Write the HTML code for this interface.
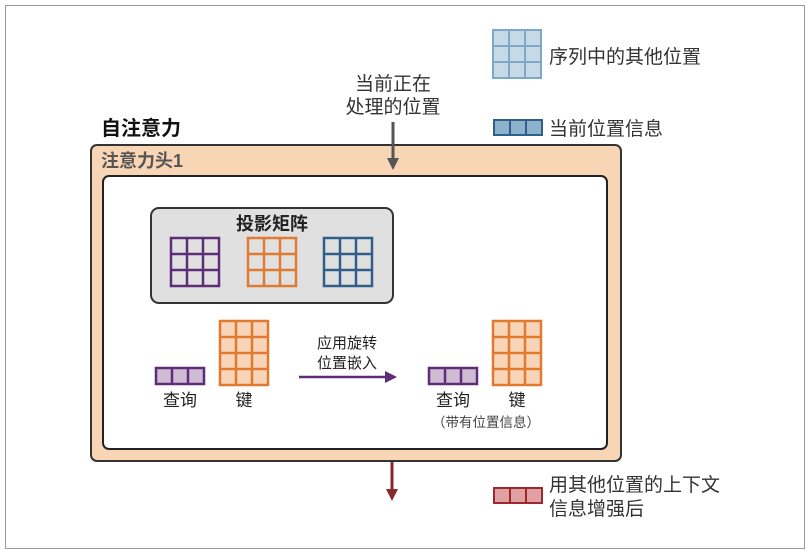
<!DOCTYPE html>
<html><head><meta charset="utf-8"><style>
body{margin:0;background:#fff}
svg text{font-family:"Liberation Sans","Noto Sans CJK SC",sans-serif}
</style></head><body>
<svg width="810" height="554" viewBox="0 0 810 554" xmlns="http://www.w3.org/2000/svg">
<defs>
<marker id="ag" markerWidth="12" markerHeight="12" refX="6" refY="6" orient="auto" markerUnits="userSpaceOnUse"><path d="M0,0 L12,6 L0,12 z" fill="#555"/></marker>
<marker id="ap" markerWidth="12" markerHeight="12" refX="6" refY="6" orient="auto" markerUnits="userSpaceOnUse"><path d="M0,0 L12,6 L0,12 z" fill="#5e2d7a"/></marker>
<marker id="ar" markerWidth="12" markerHeight="12" refX="6" refY="6" orient="auto" markerUnits="userSpaceOnUse"><path d="M0,0 L12,6 L0,12 z" fill="#8b2a2a"/></marker>
</defs>
<rect x="5.5" y="5.5" width="799" height="543" fill="#fff" stroke="#999"/>

<!-- legend -->
<g fill="#c5d9e6" stroke="#7fa7c7" stroke-width="2">
<rect x="493" y="30" width="16" height="16"/><rect x="509" y="30" width="16" height="16"/><rect x="525" y="30" width="16" height="16"/>
<rect x="493" y="46" width="16" height="16"/><rect x="509" y="46" width="16" height="16"/><rect x="525" y="46" width="16" height="16"/>
<rect x="493" y="62" width="16" height="16"/><rect x="509" y="62" width="16" height="16"/><rect x="525" y="62" width="16" height="16"/>
</g>
<text x="549" y="63" font-size="19" fill="#333">序列中的其他位置</text>
<g fill="#8db3cc" stroke="#2f5f8a" stroke-width="2">
<rect x="494" y="120" width="16" height="15"/><rect x="510" y="120" width="16" height="15"/><rect x="526" y="120" width="16" height="15"/>
</g>
<text x="549" y="135" font-size="19" fill="#333">当前位置信息</text>

<text x="393" y="90" font-size="19" fill="#333" text-anchor="middle">当前正在</text>
<text x="393" y="113" font-size="19" fill="#333" text-anchor="middle">处理的位置</text>

<text x="101" y="135" font-size="20" font-weight="bold" fill="#111">自注意力</text>
<rect x="91" y="145" width="530" height="316" rx="6" fill="#f7d5b5" stroke="#333" stroke-width="2"/>
<text x="101" y="167" font-size="18" font-weight="bold" fill="#555">注意力头1</text>
<rect x="103" y="176" width="504" height="273" rx="6" fill="#fff" stroke="#222" stroke-width="2"/>
<line x1="393" y1="122" x2="393" y2="164" stroke="#555" stroke-width="3" marker-end="url(#ag)"/>

<rect x="151" y="208" width="242" height="95" rx="8" fill="#e0e0e0" stroke="#333" stroke-width="2"/>
<text x="272" y="230" font-size="18" font-weight="bold" fill="#222" text-anchor="middle">投影矩阵</text>

<g fill="none" stroke-width="2.5">
<g stroke="#5e2d7a"><rect x="171" y="238" width="48" height="48"/><path d="M187,238V286M203,238V286M171,254H219M171,270H219"/></g>
<g stroke="#e07a30"><rect x="248" y="238" width="48" height="48"/><path d="M264,238V286M280,238V286M248,254H296M248,270H296"/></g>
<g stroke="#2f5f8a"><rect x="324" y="238" width="48" height="48"/><path d="M340,238V286M356,238V286M324,254H372M324,270H372"/></g>
</g>

<g stroke="#5e2d7a" stroke-width="2.5" fill="#cdbcd3">
<rect x="156" y="368" width="48" height="16"/><path d="M172,368V384M188,368V384" fill="none"/>
<rect x="429" y="368" width="48" height="16"/><path d="M445,368V384M461,368V384" fill="none"/>
</g>
<g stroke="#e07a30" stroke-width="2.5" fill="#f8d5b8">
<rect x="220" y="321" width="48" height="64"/><path d="M236,321V385M252,321V385M220,337H268M220,353H268M220,369H268" fill="none"/>
<rect x="493" y="321" width="48" height="64"/><path d="M509,321V385M525,321V385M493,337H541M493,353H541M493,369H541" fill="none"/>
</g>
<text x="180" y="406" font-size="17" fill="#222" text-anchor="middle">查询</text>
<text x="244" y="406" font-size="17" fill="#222" text-anchor="middle">键</text>
<text x="453" y="406" font-size="17" fill="#222" text-anchor="middle">查询</text>
<text x="517" y="406" font-size="17" fill="#222" text-anchor="middle">键</text>
<text x="486" y="427" font-size="13.5" fill="#444" text-anchor="middle">（带有位置信息）</text>

<text x="347" y="348" font-size="15" fill="#222" text-anchor="middle">应用旋转</text>
<text x="347" y="368" font-size="15" fill="#222" text-anchor="middle">位置嵌入</text>
<line x1="299" y1="377" x2="391" y2="377" stroke="#5e2d7a" stroke-width="2.5" marker-end="url(#ap)"/>

<line x1="392" y1="462" x2="392" y2="495" stroke="#8b2a2a" stroke-width="3" marker-end="url(#ar)"/>
<g fill="#e3a0a3" stroke="#9a2a2e" stroke-width="2">
<rect x="494" y="488" width="16" height="15"/><rect x="510" y="488" width="16" height="15"/><rect x="526" y="488" width="16" height="15"/>
</g>
<text x="549" y="491" font-size="19" fill="#333">用其他位置的上下文</text>
<text x="549" y="515" font-size="19" fill="#333">信息增强后</text>
</svg>
</body></html>
